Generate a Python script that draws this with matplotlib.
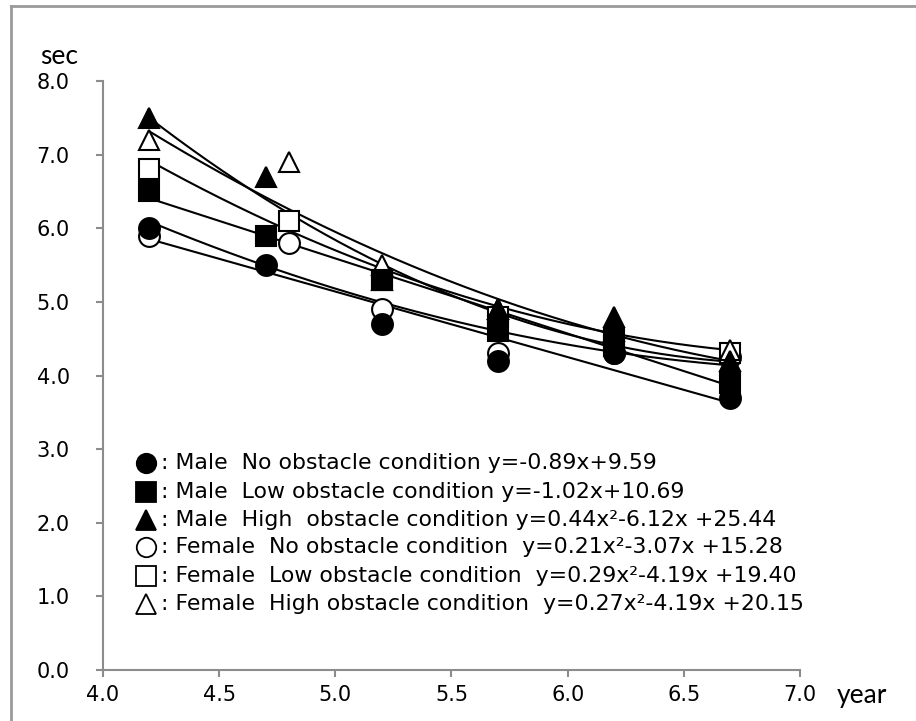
import numpy as np
import matplotlib
matplotlib.use("Agg")
import matplotlib.pyplot as plt
from matplotlib.lines import Line2D

# ---- data ----
x_male = [4.2, 4.7, 5.2, 5.7, 6.2, 6.7]
x_female = [4.2, 4.8, 5.2, 5.7, 6.2, 6.7]

male_no = [6.0, 5.5, 4.7, 4.2, 4.3, 3.7]
male_low = [6.5, 5.9, 5.3, 4.6, 4.5, 3.9]
male_high = [7.5, 6.7, 5.3, 4.9, 4.8, 4.2]
female_no = [5.9, 5.8, 4.9, 4.3, 4.3, 4.25]
female_low = [6.8, 6.1, 5.3, 4.8, 4.4, 4.3]
female_high = [7.2, 6.9, 5.5, 4.9, 4.6, 4.35]

# fitted equation coefficients (highest power first), as printed
coef_male_no = [-0.89, 9.59]
coef_male_low = [-1.02, 10.69]
coef_male_high = [0.44, -6.12, 25.44]
coef_female_no = [0.21, -3.07, 15.28]
coef_female_low = [0.29, -4.19, 19.40]
coef_female_high = [0.27, -4.19, 20.15]

labels = [
    ": Male  No obstacle condition y=-0.89x+9.59",
    ": Male  Low obstacle condition y=-1.02x+10.69",
    ": Male  High  obstacle condition y=0.44x\u00b2-6.12x +25.44",
    ": Female  No obstacle condition  y=0.21x\u00b2-3.07x +15.28",
    ": Female  Low obstacle condition  y=0.29x\u00b2-4.19x +19.40",
    ": Female  High obstacle condition  y=0.27x\u00b2-4.19x +20.15",
]

xticks = [4.0, 4.5, 5.0, 5.5, 6.0, 6.5, 7.0]
yticks = [0.0, 1.0, 2.0, 3.0, 4.0, 5.0, 6.0, 7.0, 8.0]

W, H = 916, 721
fig = plt.figure(figsize=(W / 100, H / 100), dpi=100)
ax = fig.add_axes([103 / W, 1 - 670 / H, (800 - 103) / W, (670 - 81) / H])

series = [
    (x_male, male_no, coef_male_no, "o", "black"),
    (x_male, male_low, coef_male_low, "s", "black"),
    (x_male, male_high, coef_male_high, "^", "black"),
    (x_female, female_no, coef_female_no, "o", "white"),
    (x_female, female_low, coef_female_low, "s", "white"),
    (x_female, female_high, coef_female_high, "^", "white"),
]

# fitted curves
for xs, ys, coef, m, fc in series:
    xx = np.linspace(min(xs), max(xs), 200)
    ax.plot(xx, np.polyval(coef, xx), color="black", lw=1.5, zorder=2)

# markers: open (female) first, filled (male) on top
for xs, ys, coef, m, fc in series[3:] + series[:3]:
    ax.plot(xs, ys, linestyle="none", marker=m, markersize=15,
            markerfacecolor=fc, markeredgecolor="black", markeredgewidth=1.5,
            zorder=3)

ax.set_xlim(4.0, 7.0)
ax.set_ylim(0.0, 8.0)
ax.set_xticks(xticks)
ax.set_yticks(yticks)
ax.set_xticklabels([f"{v:.1f}" for v in xticks])
ax.set_yticklabels([f"{v:.1f}" for v in yticks])
for s in ["top", "right"]:
    ax.spines[s].set_visible(False)
for s in ["left", "bottom"]:
    ax.spines[s].set_color("#8c8c8c")
    ax.spines[s].set_linewidth(1.5)
ax.tick_params(axis="both", direction="out", color="#8c8c8c", width=1.5,
               length=5, labelsize=15, labelcolor="black")
ax.tick_params(axis="y", pad=19)
ax.tick_params(axis="x", pad=6)

# axis unit labels
fig.text(59 / W, 1 - 57 / H, "sec", ha="center", va="center", fontsize=19,
         family=["Lato", "DejaVu Sans"])
fig.text(862 / W, 1 - 696 / H, "year", ha="center", va="center", fontsize=19,
         family=["Lato", "DejaVu Sans"])

# legend made of markers + text
row_y = [463, 492, 520, 547, 576, 604]
for (xs, ys, coef, m, fc), lab, ry in zip(series, labels, row_y):
    fy = 1 - ry / H
    fig.add_artist(Line2D([146 / W], [fy], marker=m, markersize=14,
                          markerfacecolor=fc, markeredgecolor="black",
                          markeredgewidth=1.3, linestyle="none"))
    fig.text(161 / W, fy, lab, ha="left", va="center", fontsize=15.8,
             family=["DejaVu Sans"])

# outer frame (top and left edges)
fig.add_artist(Line2D([11 / W, 1.0], [1 - 6 / H, 1 - 6 / H], color="#9a9a9a", lw=2))
fig.add_artist(Line2D([11 / W, 11 / W], [1 - 6 / H, 0.0], color="#9a9a9a", lw=2))

fig.savefig("out.png", dpi=100)
